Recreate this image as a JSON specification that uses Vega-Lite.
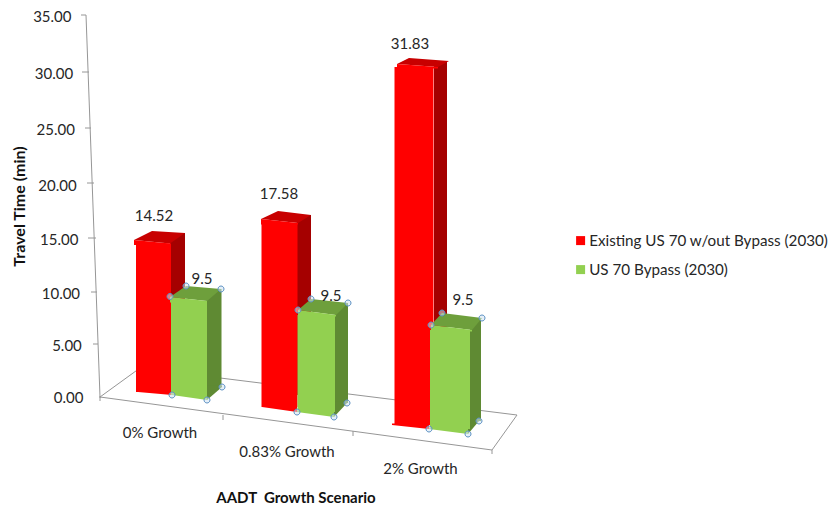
{
  "$schema": "https://vega.github.io/schema/vega-lite/v6.json",
  "autosize": {"type": "none"},
  "padding": {"left": 100, "top": 16, "right": 298, "bottom": 111},
  "width": 432,
  "height": 381,
  "background": "white",
  "config": {"view": {"stroke": null}, "font": "Lato"},
  "data": {"values": [
    {"scenario": "0% Growth", "series": "Existing US 70 w/out Bypass (2030)", "time": 14.52},
    {"scenario": "0.83% Growth", "series": "Existing US 70 w/out Bypass (2030)", "time": 17.58},
    {"scenario": "2% Growth", "series": "Existing US 70 w/out Bypass (2030)", "time": 31.83},
    {"scenario": "0% Growth", "series": "US 70 Bypass (2030)", "time": 9.5},
    {"scenario": "0.83% Growth", "series": "US 70 Bypass (2030)", "time": 9.5},
    {"scenario": "2% Growth", "series": "US 70 Bypass (2030)", "time": 9.5}
  ]},
  "params": [
    {"name": "slot", "value": {"0% Growth": 0, "0.83% Growth": 1, "2% Growth": 2}},
    {"name": "frame", "value": "M-72 0L320 53L345 18L-32 -29ZM-72 0L-72 4M51 18L51 23M181 34L181 39M320 53L320 57M-86 -382L-72 0M-91 -382L-86 -382M-90 -325L-83 -325M-87 -269L-81 -269M-85 -214L-78 -214M-84 -159L-76 -159M-81 -105L-75 -105M-79 -53L-74 -53M-73 0L-71 0"},
    {"name": "redTop", "value": ["M-38 -4.2L-2 -0.7L13 -11.2L-20 -13.2Z", "M-55 7.9L-18 11.9L-5 3.9L-38 -0.1Z", "M-63 11.9L-22 14.9L-11 8.9L-51 5.9Z"]},
    {"name": "greenTop", "value": ["M-2 -1.2L35 2.8L49 -9.2L14 -12.2Z", "M-18 11.8L20 16.8L32 4.8L-5 0.8Z", "M-29 26.8L12 31.8L22 19.8L-18 14.8Z"]},
    {"name": "redCap", "value": ["M-38 -4.2L-2 -0.7L-2 0.8L-38 0.8Z", "M-55 7.9L-18 11.9L-18 13.4L-55 13.4Z", "M-63 11.9L-22 14.9L-22 16.4L-63 16.4Z"]},
    {"name": "greenCap", "value": ["M-2 -1.2L35 2.8L35 4.3L-2 4.3Z", "M-18 11.8L20 16.8L20 18.3L-18 18.3Z", "M-29 26.8L12 31.8L12 33.3L-29 33.3Z"]},
    {"name": "redFoot", "value": ["M-34 -5L0 -2L0 -6.5L-34 -6.5Z", "M-54 10L-19 15L-19 8.5L-54 8.5Z", "M-68 28L-31 32L-31 26.5L-68 26.5Z"]},
    {"name": "greenFoot", "value": ["M0 -2L35 3L35 -3.5L0 -3.5Z", "M-19 15L18 20L18 13.5L-19 13.5Z", "M-31 32L8 37L8 30.5L-31 30.5Z"]},
    {"name": "greenSideFoot", "value": ["M35 3L50 -10L50 -11.5L35 -11.5Z", "M18 20L31 6L31 4.5L18 4.5Z", "M8 37L19 24L19 22.5L8 22.5Z"]},
    {"name": "topHandles", "value": [
      "M-5 -1.7a3 3 0 1 0 6 0a3 3 0 1 0 -6 0ZM11 -12.2a3 3 0 1 0 6 0a3 3 0 1 0 -6 0ZM46 -9.2a3 3 0 1 0 6 0a3 3 0 1 0 -6 0Z",
      "M-21 11.8a3 3 0 1 0 6 0a3 3 0 1 0 -6 0ZM-8 0.8a3 3 0 1 0 6 0a3 3 0 1 0 -6 0ZM29 4.8a3 3 0 1 0 6 0a3 3 0 1 0 -6 0Z",
      "M-32 26.8a3 3 0 1 0 6 0a3 3 0 1 0 -6 0ZM-21 14.8a3 3 0 1 0 6 0a3 3 0 1 0 -6 0ZM19 19.8a3 3 0 1 0 6 0a3 3 0 1 0 -6 0Z"
    ]},
    {"name": "baseHandles", "value": [
      "M-3 -2a3 3 0 1 0 6 0a3 3 0 1 0 -6 0ZM32 3a3 3 0 1 0 6 0a3 3 0 1 0 -6 0ZM47 -10a3 3 0 1 0 6 0a3 3 0 1 0 -6 0Z",
      "M-22 15a3 3 0 1 0 6 0a3 3 0 1 0 -6 0ZM15 20a3 3 0 1 0 6 0a3 3 0 1 0 -6 0ZM28 6a3 3 0 1 0 6 0a3 3 0 1 0 -6 0Z",
      "M-34 32a3 3 0 1 0 6 0a3 3 0 1 0 -6 0ZM5 37a3 3 0 1 0 6 0a3 3 0 1 0 -6 0ZM16 24a3 3 0 1 0 6 0a3 3 0 1 0 -6 0Z"
    ]}
  ],
  "encoding": {
    "x": {
      "field": "scenario",
      "type": "nominal",
      "sort": ["0% Growth", "0.83% Growth", "2% Growth"],
      "scale": {"domain": ["0% Growth", "0.83% Growth", "2% Growth"], "paddingInner": 0, "paddingOuter": 0},
      "axis": {
        "title": "AADT\u00a0\u00a0Growth Scenario",
        "titleFont": "Lato",
        "titleFontSize": 15,
        "titleFontWeight": "bold",
        "titleColor": "#111111",
        "titleX": 195.5,
        "titleY": 100,
        "titleBaseline": "middle",
        "domain": false,
        "ticks": false,
        "labelAngle": 0,
        "labelPadding": 0,
        "labelBaseline": "middle",
        "labelFont": "Lato",
        "labelFontSize": 15,
        "labelColor": "#262626",
        "labelBound": false,
        "labelOverlap": false,
        "encoding": {"labels": {
          "dx": {"value": {"expr": "[-12, -29, -39.5][slot[datum.value]]"}},
          "dy": {"value": {"expr": "[35, 54, 71][slot[datum.value]]"}}
        }}
      }
    },
    "y": {
      "field": "time",
      "type": "quantitative",
      "scale": {"domain": [0, 5, 10, 15, 20, 25, 30, 35], "range": [381, 329, 277, 223, 169, 113, 57, 0]},
      "stack": null,
      "axis": {
        "title": "Travel Time (min)",
        "titleFont": "Lato",
        "titleFontSize": 16,
        "titleFontWeight": "bold",
        "titleColor": "#111111",
        "titleAngle": -90,
        "titleX": -81,
        "titleY": 190,
        "titleBaseline": "middle",
        "domain": false,
        "ticks": false,
        "grid": false,
        "values": [0, 5, 10, 15, 20, 25, 30, 35],
        "format": ".2f",
        "labelPadding": 0,
        "labelFont": "Lato",
        "labelFontSize": 15,
        "labelColor": "#262626",
        "labelBound": false,
        "labelOverlap": false,
        "encoding": {"labels": {"dx": {"value": {"expr": "-17 - datum.value * 12 / 35"}}}}
      }
    }
  },
  "layer": [
    {
      "transform": [{"filter": "datum.scenario === '0% Growth' && datum.time === 9.5"}],
      "mark": {"type": "point", "shape": {"expr": "frame"}, "size": 4, "filled": false, "stroke": "#969696", "strokeWidth": 1, "opacity": 1},
      "encoding": {"y": {"datum": 0}}
    },
    {
      "transform": [{"filter": "datum.series === 'Existing US 70 w/out Bypass (2030)'"}],
      "mark": {
        "type": "bar", "color": "#a50000",
        "width": {"expr": "[15, 14, 13][slot[datum.scenario]]"},
        "xOffset": {"expr": "[5.5, -12, -19.5][slot[datum.scenario]]"},
        "yOffset": {"expr": "[-11.2, 3.9, 8.9][slot[datum.scenario]]"},
        "y2Offset": {"expr": "[-17, -2, 13][slot[datum.scenario]]"}
      },
      "encoding": {"y2": {"datum": 0}}
    },
    {
      "transform": [{"filter": "datum.series === 'Existing US 70 w/out Bypass (2030)'"}],
      "mark": {"type": "point", "shape": {"expr": "redTop[slot[datum.scenario]]"}, "size": 4, "filled": true, "color": "#c80000", "opacity": 1}
    },
    {
      "transform": [{"filter": "datum.series === 'Existing US 70 w/out Bypass (2030)'"}],
      "mark": {
        "type": "bar",
        "width": {"expr": "[35, 36, 39][slot[datum.scenario]]"},
        "xOffset": {"expr": "[-18.5, -36.5, -46][slot[datum.scenario]]"},
        "yOffset": {"expr": "[-0.7, 11.9, 14.9][slot[datum.scenario]]"},
        "y2Offset": {"expr": "[-5, 10, 28][slot[datum.scenario]]"}
      },
      "encoding": {
        "y2": {"datum": 0},
        "color": {
          "field": "series",
          "type": "nominal",
          "scale": {"domain": ["Existing US 70 w/out Bypass (2030)", "US 70 Bypass (2030)"], "range": ["#ff0000", "#92d050"]},
          "legend": {
            "title": null,
            "orient": "none",
            "legendX": 473,
            "legendY": 217,
            "symbolType": "square",
            "symbolSize": 81,
            "symbolStrokeWidth": 0,
            "labelFont": "Lato",
            "labelFontSize": 15.2,
            "labelColor": "#262626",
            "labelLimit": 300,
            "labelOffset": 1,
            "rowPadding": 13
          }
        }
      }
    },
    {
      "transform": [{"filter": "datum.series === 'Existing US 70 w/out Bypass (2030)'"}],
      "mark": {"type": "point", "shape": {"expr": "redCap[slot[datum.scenario]]"}, "size": 4, "filled": true, "color": "#ff0000", "opacity": 1}
    },
    {
      "transform": [{"filter": "datum.series === 'Existing US 70 w/out Bypass (2030)'"}],
      "mark": {"type": "point", "shape": {"expr": "redFoot[slot[datum.scenario]]"}, "size": 4, "filled": true, "color": "#ff0000", "opacity": 1},
      "encoding": {"y": {"datum": 0}}
    },
    {
      "transform": [{"filter": "datum.series === 'US 70 Bypass (2030)'"}],
      "mark": {
        "type": "bar", "color": "#5f8a33",
        "width": {"expr": "[14.5, 13, 11][slot[datum.scenario]]"},
        "xOffset": {"expr": "[42.25, 25.5, 15.5][slot[datum.scenario]]"},
        "yOffset": {"expr": "[-9.2, 4.8, 19.8][slot[datum.scenario]]"},
        "y2Offset": {"expr": "[-10, 6, 24][slot[datum.scenario]]"}
      },
      "encoding": {"y2": {"datum": 0}}
    },
    {
      "transform": [{"filter": "datum.series === 'US 70 Bypass (2030)'"}],
      "mark": {"type": "point", "shape": {"expr": "greenSideFoot[slot[datum.scenario]]"}, "size": 4, "filled": true, "color": "#5f8a33", "opacity": 1},
      "encoding": {"y": {"datum": 0}}
    },
    {
      "transform": [{"filter": "datum.series === 'US 70 Bypass (2030)'"}],
      "mark": {"type": "point", "shape": {"expr": "greenTop[slot[datum.scenario]]"}, "size": 4, "filled": true, "color": "#6e9f3c", "opacity": 1}
    },
    {
      "transform": [{"filter": "datum.series === 'US 70 Bypass (2030)'"}],
      "mark": {
        "type": "bar",
        "width": {"expr": "[36, 37.5, 40][slot[datum.scenario]]"},
        "xOffset": {"expr": "[17, 0.25, -10][slot[datum.scenario]]"},
        "yOffset": {"expr": "[2.8, 16.8, 31.8][slot[datum.scenario]]"},
        "y2Offset": {"expr": "[-2, 15, 32][slot[datum.scenario]]"}
      },
      "encoding": {
        "y2": {"datum": 0},
        "color": {"field": "series", "type": "nominal"}
      }
    },
    {
      "transform": [{"filter": "datum.series === 'US 70 Bypass (2030)'"}],
      "mark": {"type": "point", "shape": {"expr": "greenCap[slot[datum.scenario]]"}, "size": 4, "filled": true, "color": "#92d050", "opacity": 1}
    },
    {
      "transform": [{"filter": "datum.series === 'US 70 Bypass (2030)'"}],
      "mark": {"type": "point", "shape": {"expr": "greenFoot[slot[datum.scenario]]"}, "size": 4, "filled": true, "color": "#92d050", "opacity": 1},
      "encoding": {"y": {"datum": 0}}
    },
    {
      "transform": [{"filter": "datum.series === 'US 70 Bypass (2030)'"}],
      "mark": {"type": "point", "shape": {"expr": "topHandles[slot[datum.scenario]]"}, "size": 4, "filled": false, "fill": "#cfe2f3", "fillOpacity": 0.55, "stroke": "#5f93c4", "strokeWidth": 1, "opacity": 1}
    },
    {
      "transform": [{"filter": "datum.series === 'US 70 Bypass (2030)'"}],
      "mark": {"type": "point", "shape": {"expr": "baseHandles[slot[datum.scenario]]"}, "size": 4, "filled": false, "fill": "#cfe2f3", "fillOpacity": 0.55, "stroke": "#5f93c4", "strokeWidth": 1, "opacity": 1},
      "encoding": {"y": {"datum": 0}}
    },
    {
      "transform": [{"filter": "datum.series === 'Existing US 70 w/out Bypass (2030)'"}],
      "mark": {
        "type": "text", "font": "Lato", "fontSize": 15, "color": "#262626", "baseline": "middle",
        "xOffset": {"expr": "[-18, -37, -50][slot[datum.scenario]]"},
        "yOffset": {"expr": "[-28.2, -17.1, -8.1][slot[datum.scenario]]"}
      },
      "encoding": {"text": {"field": "time", "type": "quantitative", "format": ".2f"}}
    },
    {
      "transform": [{"filter": "datum.series === 'US 70 Bypass (2030)'"}],
      "mark": {
        "type": "text", "font": "Lato", "fontSize": 15, "color": "#262626", "baseline": "middle",
        "xOffset": {"expr": "[30, 15, 3][slot[datum.scenario]]"},
        "yOffset": {"expr": "[-19.2, -2.2, 1.8][slot[datum.scenario]]"}
      },
      "encoding": {"text": {"field": "time", "type": "quantitative", "format": ".1f"}}
    }
  ]
}
